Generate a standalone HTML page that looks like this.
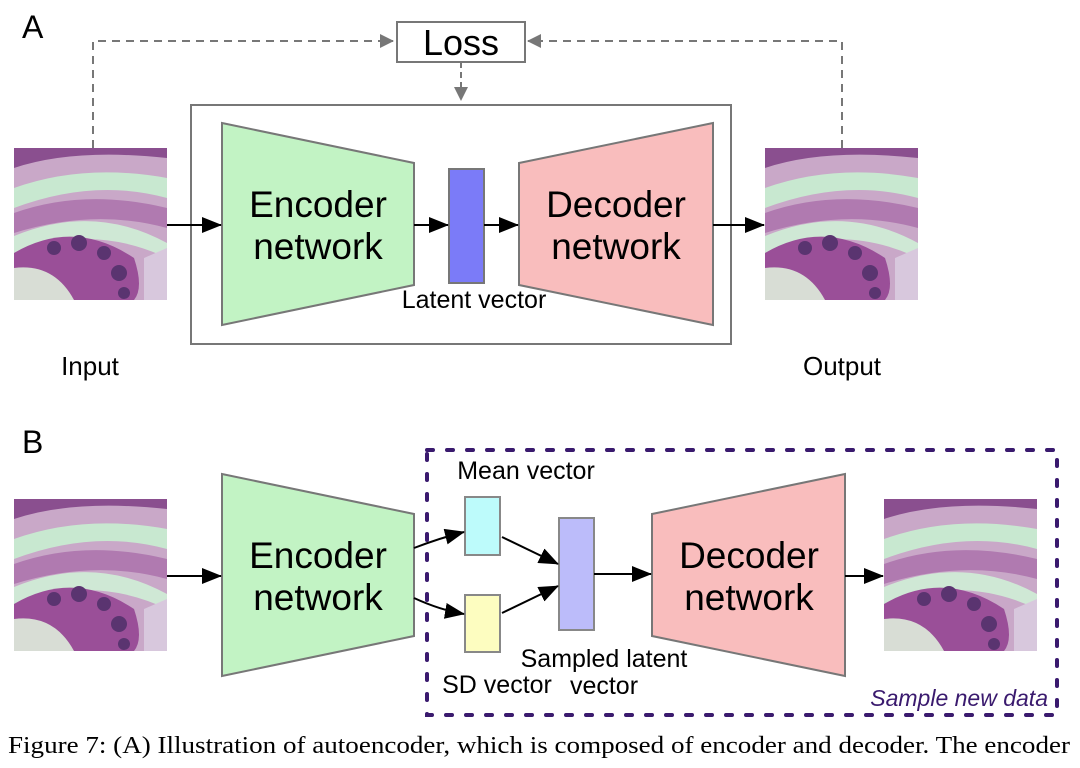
<!DOCTYPE html>
<html><head><meta charset="utf-8"><style>
body{margin:0;background:#fff;width:1080px;height:768px;overflow:hidden}
svg{display:block}
text{font-family:"Liberation Sans",sans-serif}
</style></head><body>
<svg width="1080" height="768" viewBox="0 0 1080 768">
<defs>
<marker id="ahg" markerWidth="14" markerHeight="14" refX="13" refY="7" orient="auto" markerUnits="userSpaceOnUse"><path d="M0,0 L14,7 L0,14 z" fill="#777"/></marker>
<marker id="ahb" markerWidth="20" markerHeight="16" refX="19" refY="8" orient="auto" markerUnits="userSpaceOnUse"><path d="M0,0 L20,8 L0,16 z" fill="#000"/></marker>
<g id="histo">
<rect width="153" height="152" fill="#c9a8c8"/>
<path d="M0,20 Q60,0 153,10 L153,0 L0,0z" fill="#8a4f8f"/>
<path d="M0,40 Q70,15 153,30 L153,50 Q80,30 0,60z" fill="#c8e8d0"/>
<path d="M0,65 Q70,40 153,60 L153,80 Q80,60 0,85z" fill="#b07ab0"/>
<path d="M0,88 Q80,55 153,95 L153,110 Q80,75 0,105z" fill="#cfe8d5"/>
<path d="M0,105 Q60,70 120,110 Q130,140 120,152 L0,152z" fill="#9a4f98"/>
<path d="M0,120 Q40,115 60,152 L0,152z" fill="#d8ddd5"/>
<circle cx="40" cy="100" r="7" fill="#5a3470"/><circle cx="65" cy="95" r="8" fill="#5a3470"/><circle cx="90" cy="105" r="7" fill="#5a3470"/><circle cx="105" cy="125" r="8" fill="#5a3470"/><circle cx="110" cy="145" r="6" fill="#5a3470"/>
<path d="M130,110 L153,100 L153,152 L130,152z" fill="#d8c8dd"/>
</g>
</defs>
<text x="22" y="38" font-size="32">A</text>
<rect x="397" y="22" width="128" height="40" fill="#fff" stroke="#777" stroke-width="2"/>
<text x="461" y="55" font-size="36" text-anchor="middle">Loss</text>
<path d="M93,148 V41 H393" fill="none" stroke="#777" stroke-width="2" stroke-dasharray="8,6" marker-end="url(#ahg)"/>
<path d="M842,148 V41 H528" fill="none" stroke="#777" stroke-width="2" stroke-dasharray="8,6" marker-end="url(#ahg)"/>
<path d="M461,62 V100" stroke="#777" stroke-width="2" stroke-dasharray="6,4" marker-end="url(#ahg)"/>
<rect x="191" y="105" width="540" height="239" fill="none" stroke="#777" stroke-width="2"/>
<use href="#histo" x="14" y="148"/>
<use href="#histo" x="765" y="148"/>
<polygon points="222,123 414,163 414,285 222,325" fill="#c2f3c4" stroke="#777" stroke-width="2"/>
<text x="318" y="217" font-size="37" text-anchor="middle">Encoder</text>
<text x="318" y="259" font-size="37" text-anchor="middle">network</text>
<rect x="449" y="169" width="35" height="114" fill="#7b7bf8" stroke="#777" stroke-width="2"/>
<polygon points="519,163 713,123 713,325 519,285" fill="#f9bdbd" stroke="#777" stroke-width="2"/>
<text x="616" y="217" font-size="37" text-anchor="middle">Decoder</text>
<text x="616" y="259" font-size="37" text-anchor="middle">network</text>
<text x="474" y="308" font-size="25" text-anchor="middle">Latent vector</text>
<path d="M167,225 H221" stroke="#000" stroke-width="2" marker-end="url(#ahb)"/>
<path d="M414,225 H448" stroke="#000" stroke-width="2" marker-end="url(#ahb)"/>
<path d="M484,225 H518" stroke="#000" stroke-width="2" marker-end="url(#ahb)"/>
<path d="M713,225 H764" stroke="#000" stroke-width="2" marker-end="url(#ahb)"/>
<text x="90" y="375" font-size="26" text-anchor="middle">Input</text>
<text x="842" y="375" font-size="26" text-anchor="middle">Output</text>

<text x="22" y="453" font-size="32">B</text>
<rect x="427" y="450" width="630" height="265" fill="none" stroke="#3a1a6e" stroke-width="4" stroke-dasharray="6,14" stroke-linecap="round"/>
<use href="#histo" x="14" y="499"/>
<use href="#histo" x="884" y="499"/>
<polygon points="222,474 414,514 414,636 222,676" fill="#c2f3c4" stroke="#777" stroke-width="2"/>
<text x="318" y="568" font-size="37" text-anchor="middle">Encoder</text>
<text x="318" y="610" font-size="37" text-anchor="middle">network</text>
<text x="526" y="479" font-size="25" text-anchor="middle">Mean vector</text>
<rect x="465" y="497" width="35" height="58" fill="#bdfbfb" stroke="#888" stroke-width="2"/>
<rect x="465" y="595" width="35" height="57" fill="#fdfdc0" stroke="#888" stroke-width="2"/>
<rect x="559" y="518" width="35" height="112" fill="#bcbcfa" stroke="#888" stroke-width="2"/>
<polygon points="652,514 845,474 845,676 652,636" fill="#f9bdbd" stroke="#777" stroke-width="2"/>
<text x="749" y="568" font-size="37" text-anchor="middle">Decoder</text>
<text x="749" y="610" font-size="37" text-anchor="middle">network</text>
<path d="M167,576 H221" stroke="#000" stroke-width="2" marker-end="url(#ahb)"/>
<path d="M414,548 Q440,538 464,532" fill="none" stroke="#000" stroke-width="2" marker-end="url(#ahb)"/>
<path d="M414,598 Q440,610 464,614" fill="none" stroke="#000" stroke-width="2" marker-end="url(#ahb)"/>
<path d="M502,537 L558,564" stroke="#000" stroke-width="2" marker-end="url(#ahb)"/>
<path d="M502,613 L558,586" stroke="#000" stroke-width="2" marker-end="url(#ahb)"/>
<path d="M594,574 H651" stroke="#000" stroke-width="2" marker-end="url(#ahb)"/>
<path d="M845,576 H883" stroke="#000" stroke-width="2" marker-end="url(#ahb)"/>
<text x="604" y="667" font-size="25" text-anchor="middle">Sampled latent</text>
<text x="604" y="694" font-size="25" text-anchor="middle">vector</text>
<text x="497" y="693" font-size="25" text-anchor="middle">SD vector</text>
<text x="1048" y="706" font-size="23" font-style="italic" fill="#3a1a6e" text-anchor="end">Sample new data</text>
<text x="8" y="753" font-size="24" textLength="1062" lengthAdjust="spacingAndGlyphs" style="font-family:'Liberation Serif',serif">Figure 7: (A) Illustration of autoencoder, which is composed of encoder and decoder. The encoder</text>
</svg>
</body></html>
